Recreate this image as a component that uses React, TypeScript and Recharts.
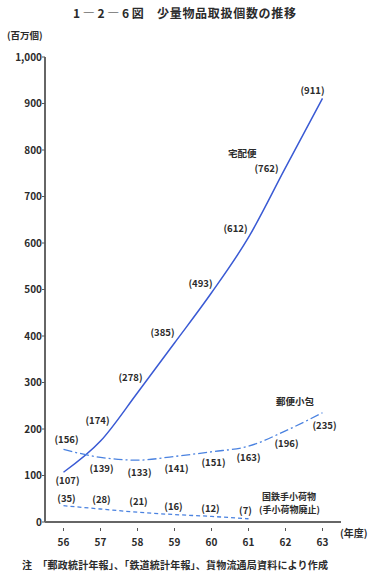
import React from "react";
import { LineChart, Line, XAxis, YAxis, LabelList } from "recharts";

// 年度 (昭和)
const years = [56, 57, 58, 59, 60, 61, 62, 63];
// 百万個
const takuhai = [107, 174, 278, 385, 493, 612, 762, 911];
const yubin = [156, 139, 133, 141, 151, 163, 196, 235];
const kokutetsu = [35, 28, 21, 16, 12, 7];
const yTicks = [0, 100, 200, 300, 400, 500, 600, 700, 800, 900, 1000];

const rows = years.map((y, i) => ({
  year: y,
  takuhai: takuhai[i],
  yubin: yubin[i],
  kokutetsu: i < kokutetsu.length ? kokutetsu[i] : null,
}));

// label nudges (center of label relative to point)
const takuhaiOff = [
  [4, 8], [-3, -21], [-7, -15], [-12, -10], [-11, -9], [-13, -9], [-19, 1], [-10, -8],
];
const yubinOff = [
  [3, -10], [1, 11], [2, 12], [2, 12], [2, 11], [0, 11], [1, 13], [2, 13],
];
const kokuOff = [[3, -7], [1, -9], [1, -11], [-1, -8], [-1, -8], [-3, -8]];

const FONT = '"Noto Sans CJK JP", "Noto Sans", sans-serif';
const BLUE = "#3a5ad4";
const BLUE2 = "#4a82e0";
const TXT = "#2b2b2b";

function labeler(off: number[][]) {
  return (p: any) => {
    if (p.value == null) return null;
    const o = off[p.index] || [0, 0];
    return (
      <text
        x={Number(p.x) + o[0]}
        y={Number(p.y) + o[1]}
        dy={3.5}
        textAnchor="middle"
        fontSize={9.5}
        fontWeight={700}
        fill={TXT}
        fontFamily={FONT}
      >
        ({p.value})
      </text>
    );
  };
}

function XTick(props: any) {
  const { x, y, payload } = props;
  return (
    <g>
      <line x1={x} x2={x} y1={y - 13} y2={y - 10} stroke="#555" strokeWidth={1} />
      <text
        x={x}
        y={y}
        dy={5}
        textAnchor="middle"
        fontSize={10}
        fontWeight={700}
        fill={TXT}
        fontFamily={FONT}
      >
        {payload.value}
      </text>
    </g>
  );
}

const abs = (left: number, top: number, extra: any = {}) => ({
  position: "absolute" as const,
  left,
  top,
  fontFamily: FONT,
  color: TXT,
  whiteSpace: "pre" as const,
  lineHeight: 1,
  ...extra,
});

export default function App() {
  return (
    <div style={{ position: "absolute", left: 0, top: 0, width: 384, height: 583, background: "#fff" }}>
      <LineChart
        width={384}
        height={583}
        data={rows}
        margin={{ top: 57, right: 43, bottom: 31, left: 0 }}
      >
        <XAxis
          dataKey="year"
          type="number"
          domain={[55.5, 63.5]}
          ticks={years}
          height={30}
          axisLine={{ stroke: "#666", strokeWidth: 2 }}
          tickLine={false}
          tick={<XTick />}
          tickMargin={13}
          interval={0}
        />
        <YAxis
          domain={[0, 1000]}
          ticks={yTicks}
          width={45}
          interval={0}
          axisLine={{ stroke: "#666", strokeWidth: 2 }}
          tickLine={{ stroke: "#555" }}
          tickSize={3}
          tickMargin={0}
          tickFormatter={(v: number) => (v === 1000 ? "1,000" : String(v))}
          tick={{ fontSize: 10, fontWeight: 700, fill: TXT, fontFamily: FONT }}
        />
        <Line
          dataKey="takuhai"
          type="monotone"
          stroke={BLUE}
          strokeWidth={1.5}
          dot={false}
          isAnimationActive={false}
        >
          <LabelList dataKey="takuhai" content={labeler(takuhaiOff)} />
        </Line>
        <Line
          dataKey="yubin"
          type="monotone"
          stroke={BLUE2}
          strokeWidth={1.3}
          strokeDasharray="9 3 2 3"
          dot={false}
          isAnimationActive={false}
        >
          <LabelList dataKey="yubin" content={labeler(yubinOff)} />
        </Line>
        <Line
          dataKey="kokutetsu"
          type="monotone"
          stroke={BLUE2}
          strokeWidth={1.3}
          strokeDasharray="4 3"
          dot={false}
          isAnimationActive={false}
        >
          <LabelList dataKey="kokutetsu" content={labeler(kokuOff)} />
        </Line>
      </LineChart>

      <div style={abs(73, 7, { fontSize: 12, fontWeight: 700 })}>1 ― 2 ― 6 図</div>
      <div style={abs(157, 7, { fontSize: 12, fontWeight: 700, letterSpacing: 0.7 })}>少量物品取扱個数の推移</div>
      <div style={abs(7, 31, { fontSize: 9.5, fontWeight: 700 })}>(百万個)</div>
      <div style={abs(228, 149, { fontSize: 9.5, fontWeight: 700 })}>宅配便</div>
      <div style={abs(276, 397, { fontSize: 9.5, fontWeight: 700 })}>郵便小包</div>
      <div style={abs(262, 492, { fontSize: 9, fontWeight: 700 })}>国鉄手小荷物</div>
      <div style={abs(259, 505, { fontSize: 9, fontWeight: 700 })}>(手小荷物廃止)</div>
      <div style={abs(340, 528, { fontSize: 10, fontWeight: 700 })}>(年度)</div>
      <div style={abs(22, 560, { fontSize: 10, fontWeight: 700, letterSpacing: 0.2 })}>注　「郵政統計年報」、「鉄道統計年報」、貨物流通局資料により作成</div>
    </div>
  );
}
